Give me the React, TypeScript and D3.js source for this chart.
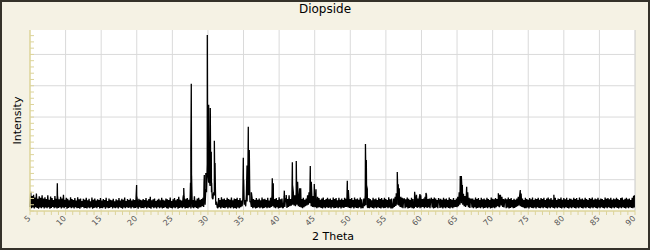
import React from "react";
import * as d3 from "d3";

const TITLE = "Diopside";
const X_LABEL = "2 Theta";
const Y_LABEL = "Intensity";

// 2θ axis
const X_DOMAIN: [number, number] = [5, 90];
const X_MAJOR = d3.range(5, 91, 5);
const X_MINOR = d3.range(5, 91, 1);
// intensity axis (no labels shown)
const Y_DOMAIN: [number, number] = [0, 5780];
const Y_MAJOR = [1000, 2000, 3000, 4000, 5000];
const Y_MINOR = d3.range(0, 5780, 200);

// background counts, 0.1° steps from 5.0° to 90.0°
const BASE_START = 5;
const BASE_STEP = 0.1;
const baseline: number[] = [
  130,610,90,480,110,520,80,430,120,560,100,390,70,470,110,420,90,500,120,400,
  80,440,110,380,90,500,120,360,70,460,100,410,130,350,90,480,110,390,80,430,
  100,370,120,450,80,400,110,520,90,360,130,420,70,390,100,340,120,440,90,380,
  110,350,80,410,120,330,90,440,100,370,70,400,110,320,130,390,90,360,100,420,
  80,340,110,390,90,310,120,430,70,360,100,400,110,330,90,370,130,350,80,410,
  100,330,90,380,120,350,70,420,110,320,90,400,100,360,130,340,80,390,110,310,
  90,370,110,340,80,410,120,330,100,390,70,360,110,430,90,320,120,380,100,350,
  110,400,80,330,120,370,90,350,100,420,110,310,70,390,120,360,90,340,100,380,
  90,350,120,410,80,330,110,380,100,450,70,340,120,370,90,400,110,320,80,360,
  120,390,90,340,110,420,80,360,100,330,120,400,90,370,70,350,110,430,100,320,
  80,370,110,410,90,340,120,380,70,450,100,360,110,330,90,420,120,350,80,390,
  100,410,90,360,120,440,80,380,110,350,90,470,120,330,100,400,70,420,110,360,
  120,380,150,420,130,520,200,700,600,1500,1200,900,1000,800,900,600,420,380,600,500,
  600,200,300,120,90,410,120,350,80,440,110,370,100,400,90,350,120,420,80,380,
  110,360,90,430,120,340,80,400,100,380,70,420,110,350,90,410,120,330,150,380,
  600,200,350,150,500,300,900,500,700,300,300,130,420,90,380,110,350,80,410,100,
  360,120,400,90,340,110,430,80,370,100,390,120,350,90,420,110,330,100,420,130,
  500,150,400,110,380,90,410,120,350,80,440,100,370,110,400,90,120,450,130,380,
  420,100,380,130,500,150,380,170,450,200,600,180,500,150,600,200,500,150,400,130,
  450,110,380,90,420,120,360,150,400,180,500,200,600,250,400,150,500,130,480,120,
  400,120,350,90,450,110,410,120,360,100,400,80,430,110,350,90,380,120,420,100,
  370,110,400,80,350,120,430,90,380,100,410,110,340,90,420,120,360,80,400,110,
  350,100,420,130,390,130,450,110,400,100,380,90,410,120,350,80,430,110,370,100,
  400,90,360,120,430,80,370,110,110,400,150,500,180,420,130,100,410,90,380,120,
  340,100,420,80,370,110,400,90,350,120,430,100,380,80,410,110,360,90,420,100,
  380,120,350,90,440,110,370,80,400,100,110,400,130,450,160,500,200,600,180,450,
  130,450,110,420,90,380,400,90,370,120,430,80,390,100,350,110,420,90,380,100,
  110,450,130,520,100,400,120,430,90,500,110,380,130,400,90,450,120,520,100,380,
  120,400,90,360,420,110,380,80,430,100,400,120,350,90,410,350,100,390,110,360,
  80,420,110,370,90,400,120,350,100,430,80,380,110,360,90,410,120,350,130,400,
  120,450,150,600,200,700,250,650,200,550,150,480,130,500,180,550,120,420,100,380,
  380,110,400,90,360,120,430,80,380,100,410,110,350,90,420,120,370,80,400,100,
  360,110,420,90,380,120,350,80,430,100,390,110,370,90,410,120,380,150,420,130,
  150,500,180,450,130,380,110,350,400,90,370,110,430,80,380,100,410,120,350,90,
  390,100,360,130,400,150,450,180,500,150,480,130,400,110,350,90,420,90,380,110,
  360,80,410,120,370,100,430,90,350,110,400,80,380,120,420,100,360,90,410,110,
  380,90,420,120,350,100,400,80,430,110,370,90,410,120,360,100,390,80,420,110,
  350,90,400,120,380,100,430,80,360,110,410,90,370,120,420,100,350,80,400,110,
  390,90,360,120,420,100,380,80,410,110,350,90,430,120,370,100,400,80,360,110,
  420,90,380,120,350,100,410,80,390,110,430,90,360,120,400,100,370,80,420,110,
  360,90,400,120,380,100,350,80,430,110,390,90,410,120,370,100,420,80,360,110,
  400,90,370,120,420,100,380,80,350,110,410,90,430,120,360,100,390,80,420,110,
  370,90,400,120,350,100,420,90,480,110,480,
];

// diffraction peaks: [2θ, counts]
const peaks: [number, number][] = [
  [8.82, 600], [8.84, 885], [8.86, 500],
  [19.98, 830], [20.02, 450],
  [26.55, 500], [26.6, 735], [26.65, 450],
  [27.55, 900], [27.6, 1900], [27.66, 4060], [27.7, 1130], [27.75, 600],
  [29.45, 900], [29.49, 1150], [29.55, 700], [29.7, 1210],
  [29.91, 5620], [29.95, 2500], [30.1, 3390], [30.15, 1500],
  [30.33, 3290], [30.38, 1400], [30.47, 1890], [30.52, 900],
  [30.9, 2240], [30.95, 1200], [31.0, 1530], [31.05, 700],
  [34.97, 1700], [35.02, 1000], [35.49, 1450], [35.55, 900],
  [35.67, 2690], [35.72, 1500], [35.81, 1950], [35.86, 900], [36.1, 600],
  [39.04, 1045], [39.18, 885], [40.73, 650], [41.0, 510],
  [41.86, 1556], [41.9, 800], [42.0, 565], [42.41, 1597], [42.45, 900],
  [42.6, 936], [42.89, 725], [43.03, 725],
  [44.38, 1438], [44.42, 800], [44.52, 936], [44.94, 863], [45.18, 693],
  [49.58, 965], [49.62, 500], [49.72, 671],
  [52.13, 2140], [52.18, 1200], [52.25, 1629], [52.3, 800], [52.39, 700],
  [56.46, 565], [56.6, 1246], [56.65, 800], [56.74, 853], [56.88, 725],
  [59.04, 617], [59.79, 543], [60.63, 575],
  [65.45, 1118], [65.52, 900], [65.6, 1118], [65.74, 830], [66.35, 776], [66.5, 600],
  [70.8, 565], [71.0, 500], [73.88, 671], [74.0, 560], [78.6, 520], [89.9, 480],
];

const W = 650;
const H = 250;
const PL = 30, PR = 635, PT = 30, PB = 211;
const AXIS = "#ddd49a";
const GRID = "#dadada";
const BG = "#f5f2e4";
const FONT = "DejaVu Sans, sans-serif";

export default function App() {
  const x = d3.scaleLinear().domain(X_DOMAIN).range([PL, PR]);
  const y = d3.scaleLinear().domain(Y_DOMAIN).range([PB, PT]);

  const pts: [number, number][] = baseline.map((v, i) => [
    +(BASE_START + i * BASE_STEP).toFixed(2),
    v,
  ]);
  const all = pts.concat(peaks).sort((a, b) => a[0] - b[0]);
  const line = d3
    .line<[number, number]>()
    .x((d) => x(d[0]))
    .y((d) => y(d[1]));

  return (
    <div style={{ position: "fixed", left: 0, top: 0 }}>
      <svg width={W} height={H} style={{ display: "block" }}>
        <rect x={1} y={1} width={W - 2} height={H - 2} fill={BG} stroke="#35322a" strokeWidth={2} />
        <rect x={PL} y={PT} width={PR - PL} height={PB - PT} fill="#fff" />
        {X_MAJOR.filter((v) => v > 5).map((v) => (
          <line key={"gx" + v} x1={x(v)} x2={x(v)} y1={PT} y2={PB} stroke={v === 90 ? "#c8c8c8" : GRID} strokeWidth={1} />
        ))}
        {Y_MAJOR.map((v) => (
          <line key={"gy" + v} x1={PL} x2={PR} y1={y(v)} y2={y(v)} stroke={GRID} strokeWidth={1} />
        ))}
        <path d={line(all) || ""} fill="none" stroke="#000" strokeWidth={1.3} strokeLinejoin="miter" strokeMiterlimit={2} />
        {Y_MINOR.map((v) => (
          <line key={"ty" + v} x1={PL} x2={PL + 4} y1={y(v)} y2={y(v)} stroke={AXIS} strokeWidth={1} />
        ))}
        <line x1={PL} x2={PL} y1={PT} y2={PB} stroke={AXIS} strokeWidth={1.5} />
        <line x1={PL} x2={PR} y1={PB} y2={PB} stroke={AXIS} strokeWidth={1.5} />
        {X_MINOR.map((v) => (
          <line key={"tx" + v} x1={x(v)} x2={x(v)} y1={PB} y2={PB + 4} stroke={AXIS} strokeWidth={1} />
        ))}
        {X_MAJOR.map((v) => (
          <text
            key={"lx" + v}
            transform={`translate(${x(v) + 1},${PB + 8}) rotate(-45)`}
            textAnchor="end"
            fontFamily={FONT}
            fontSize={8}
            fill="#555"
          >
            {v}
          </text>
        ))}
        <text x={325} y={13} textAnchor="middle" fontFamily={FONT} fontSize={12} fill="#000">
          {TITLE}
        </text>
        <text x={333} y={240} textAnchor="middle" fontFamily={FONT} fontSize={11} fill="#000">
          {X_LABEL}
        </text>
        <text
          transform={`translate(21,${(PT + PB) / 2}) rotate(-90)`}
          textAnchor="middle"
          fontFamily={FONT}
          fontSize={11}
          fill="#000"
        >
          {Y_LABEL}
        </text>
      </svg>
    </div>
  );
}
